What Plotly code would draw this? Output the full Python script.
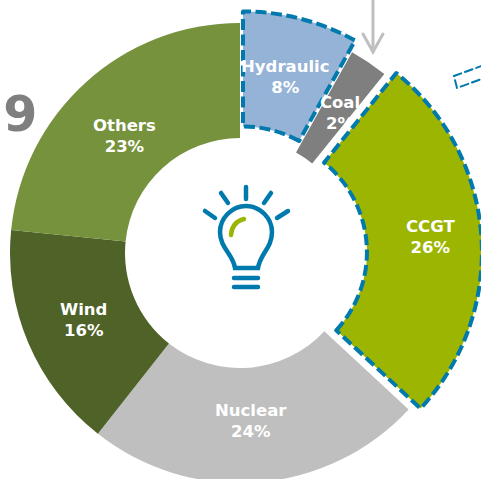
import plotly.graph_objects as go

# parts du mix, sens horaire depuis 12h
labels = ['Hydraulic', 'Coal', 'CCGT', 'Nuclear', 'Wind', 'Others']
values = [8.1, 2.7, 26.1, 23.7, 16.0, 23.4]
shown_pct = [8, 2, 26, 24, 16, 23]
colors = ['#95B3D7', '#7F7F7F', '#9BB500', '#BFBFBF', '#4F6228', '#76923C']
pulls = [0.052, 0, 0.052, 0, 0, 0]
border_width = [4, 0, 4, 0, 0, 0]
year_label = '2019'

# centre des etiquettes, en pixels fenetre (Coal reste dans le camembert)
label_pos = {'Hydraulic': (285, 77), 'CCGT': (430, 237), 'Nuclear': (251, 421),
             'Wind': (83, 320), 'Others': (124, 136)}

BLUE = '#0079AC'
GREY = '#BFBFBF'
FONT = 'DejaVu Sans'
TEXT_SIZE = 16.5

# la figure depasse de la fenetre pour laisser le camembert deborder
OFFSET = 10
W, H = 500, 526
CX, CY, R = 240, 253, 230


def fx(x):
    return (x + OFFSET) / W


def fy(y):
    return 1 - (y + OFFSET) / H


def pt(x, y):
    return f'{fx(x):.5f},{fy(y):.5f}'


half = R * (1 + max(pulls))
slice_text = [f'{n}<br>{p}%' for n, p in zip(labels, shown_pct)]

fig = go.Figure(go.Pie(
    labels=labels,
    values=values,
    text=slice_text,
    hole=0.5,
    sort=False,
    direction='clockwise',
    rotation=0,
    pull=pulls,
    marker=dict(colors=colors, line=dict(color=BLUE, width=border_width)),
    texttemplate='%{text}',
    textposition=['none', 'inside', 'none', 'none', 'none', 'none'],
    insidetextorientation='horizontal',
    insidetextfont=dict(family=FONT, size=TEXT_SIZE, color='white', weight='bold'),
    hoverinfo='skip',
    showlegend=False,
    domain=dict(x=[fx(CX - half), fx(CX + half)], y=[fy(CY + half), fy(CY - half)]),
))

shapes = []


def add_path(d, color, width, dash='solid'):
    shapes.append(dict(type='path', path=d, xref='paper', yref='paper',
                       line=dict(color=color, width=width, dash=dash)))


# fleche grise
add_path(f'M{pt(373, -5)} L{pt(373, 52)}', GREY, 3)
add_path(f'M{pt(363, 34)} L{pt(373, 52)} L{pt(383, 34)}', GREY, 3)

# cadre pointille coupe par le bord
add_path(f'M{pt(495, 61)} L{pt(454, 76)} L{pt(457, 88)} L{pt(495, 74)}', BLUE, 2, '8px,4px')

# ampoule
for x0, y0, x1, y1 in [(246, 187, 246, 199), (221, 193, 228, 203), (271, 193, 264, 203),
                       (205, 211, 215, 218), (288, 211, 277, 218),
                       (234, 278, 258, 278), (234, 287, 258, 287)]:
    add_path(f'M{pt(x0, y0)} L{pt(x1, y1)}', BLUE, 4.5)
add_path(f'M{pt(235, 268)} C{pt(233, 254)} {pt(220, 248)} {pt(220, 232)} '
         f'C{pt(220, 218)} {pt(232, 206)} {pt(246, 206)} '
         f'C{pt(260, 206)} {pt(272, 218)} {pt(272, 232)} '
         f'C{pt(272, 248)} {pt(260, 254)} {pt(258, 268)} Z', BLUE, 4.5)
add_path(f'M{pt(244, 219)} Q{pt(232, 222)} {pt(231, 235)}', '#9BB500', 4.5)

annotations = [dict(x=fx(lx), y=fy(ly), xref='paper', yref='paper', showarrow=False,
                    xanchor='center', yanchor='middle',
                    text=slice_text[labels.index(n)],
                    font=dict(family=FONT, size=TEXT_SIZE, color='white', weight='bold'))
               for n, (lx, ly) in label_pos.items()]
annotations.append(dict(x=fx(39), y=fy(114), xref='paper', yref='paper', showarrow=False,
                        xanchor='right', yanchor='middle', text=year_label,
                        font=dict(family=FONT, size=49, color='#7F7F7F', weight='bold')))

fig.update_layout(
    width=W, height=H,
    margin=dict(l=0, r=0, t=0, b=0),
    paper_bgcolor='white',
    uniformtext=dict(mode='show', minsize=TEXT_SIZE),
    shapes=shapes,
    annotations=annotations,
)

# pointilles, bouts arrondis, etiquette Coal recalee sous CCGT, cadrage de la page
post = f"""
document.body.style.margin = '-{OFFSET}px';
document.documentElement.style.overflow = 'hidden';
var paths = document.querySelectorAll('.slice path.surface');
[0, 2].forEach(function (i) {{ paths[i].style.strokeDasharray = '11 4.5'; }});
document.querySelectorAll('.shapelayer path').forEach(function (p) {{ p.style.strokeLinecap = 'round'; }});
var t = document.querySelector('.slice .slicetext');
var box = t.getBoundingClientRect();
var dx = 340 - (box.left + box.width / 2), dy = 113 - (box.top + box.height / 2);
t.setAttribute('transform', 'translate(' + dx + ',' + dy + ') ' + (t.getAttribute('transform') || ''));
"""
fig.write_html("out.html", post_script=post, config=dict(displayModeBar=False, responsive=False))
